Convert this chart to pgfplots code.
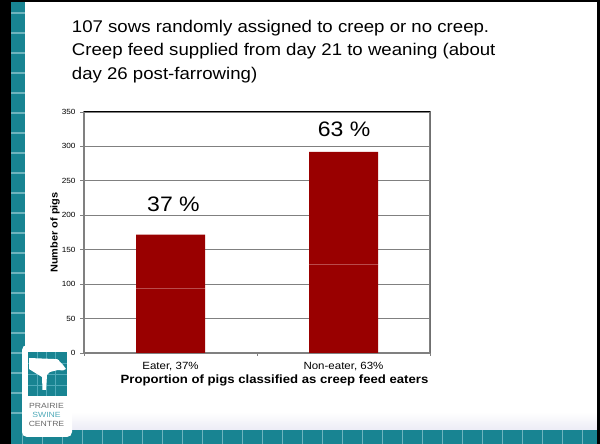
\documentclass[border=0pt]{standalone}
\usepackage{fontspec}
\setmainfont{Liberation Sans}[FakeStretch=1.1]
\usepackage{pgfplots}
\pgfplotsset{compat=1.18}

\definecolor{psteal}{RGB}{24,132,146}
\definecolor{pstealline}{RGB}{110,180,190}
\definecolor{barred}{RGB}{153,0,0}
\definecolor{barline}{RGB}{180,50,50}
\definecolor{gridgray}{RGB}{128,128,128}
\definecolor{logogray}{RGB}{105,105,105}
\definecolor{logoteal}{RGB}{80,170,185}

\begin{document}
\begin{tikzpicture}[x=1bp,y=1bp]
\useasboundingbox (0,0) rectangle (600,444);
% slide background and frame
\fill[white] (0,0) rectangle (600,444);
\shade[top color=white, bottom color={rgb,255:red,236;green,236;blue,246}] (25,14) rectangle (597,32);
\fill[black] (0,0) rectangle (11,444);
\fill[psteal] (11,0) rectangle (25,444);
\foreach \k in {0,...,21} {
  \draw[pstealline, line width=1.2bp] (11,{431-20*\k}) -- (25,{431-20*\k});
}
\fill[psteal] (11,0) rectangle (597,14);
\foreach \k in {0,...,28} {
  \draw[pstealline, line width=1.2bp] ({22.7+20*\k},0) -- ({22.7+20*\k},14);
}
\fill[black] (0,442) rectangle (600,444);
\fill[black] (597,0) rectangle (600,444);

% logo
\fill[white, rounded corners=5bp] (22,7) rectangle (72,99);
\fill[psteal] (28,48) rectangle (67,92);
\foreach \xx in {37,46,55} { \draw[logoteal, line width=0.5bp] (\xx,48) -- (\xx,92); }
\foreach \yy in {59,70,81} { \draw[logoteal, line width=0.5bp] (28,\yy) -- (67,\yy); }
\fill[white] (29,86) -- (54,85) .. controls (58,85) .. (60,82) -- (63,79) -- (66,75)
  -- (63,73.5) -- (58,74) .. controls (54,73) .. (50,72) -- (47,69) -- (46,54) -- (42.5,54)
  -- (42,67) .. controls (37,70) .. (29,75) -- cycle;
\node[font=\fontsize{7.5}{8}\selectfont, text=logogray, xscale=1.05] at (46.5,38) {PRAIRIE};
\node[font=\fontsize{7.5}{8}\selectfont, text=logoteal, xscale=1.05] at (46.5,29.5) {SWINE};
\node[font=\fontsize{7.5}{8}\selectfont, text=logogray, xscale=1.05] at (46.5,20) {CENTRE};

% heading text
\node[anchor=base west, font=\fontsize{17}{20}\selectfont, inner sep=0] at (71.7,411.3) {107 sows randomly assigned to creep or no creep.};
\node[anchor=base west, font=\fontsize{17}{20}\selectfont, inner sep=0] at (71.7,388) {Creep feed supplied from day 21 to weaning (about};
\node[anchor=base west, font=\fontsize{17}{20}\selectfont, inner sep=0] at (71.7,364.7) {day 26 post-farrowing)};

\begin{axis}[
  at={(84bp,91bp)}, anchor=south west,
  scale only axis, width=346bp, height=241bp,
  ybar stacked, bar width=69bp,
  xmin=-0.5, xmax=1.5, ymin=0, ymax=350,
  xtick={0,1},
  xticklabels={{Eater, 37\%},{Non-eater, 63\%}},
  minor xtick={-0.5,0.5,1.5},
  major x tick style={draw=none},
  minor x tick style={gridgray, line width=0.6bp},
  minor tick length=3bp,
  ytick={0,50,...,350},
  major y tick style={gridgray, line width=0.8bp},
  major tick length=4bp,
  tick align=outside,
  xtick pos=bottom, ytick pos=left,
  ymajorgrids,
  grid style={gridgray, line width=0.8bp},
  axis line style={gridgray, line width=1.2bp},
  /pgf/number format/assume math mode=true,
  yticklabel style={font=\fontsize{7.5}{8}\selectfont, xshift=-1bp},
  xticklabel style={font=\fontsize{10.5}{12}\selectfont, yshift=-2bp},
  xlabel={Proportion of pigs classified as creep feed eaters},
  xlabel style={font=\bfseries\fontsize{12}{13}\selectfont, at={(axis description cs:0.5506,0)}, anchor=north, yshift=-18bp},
  ylabel={Number of pigs},
  ylabel style={font=\bfseries\fontsize{10}{11}\selectfont, at={(axis description cs:-0.0838,0.5)}, anchor=center},
]
% lower part, thin seam, upper part of each bar
\addplot[fill=barred, draw=none] coordinates {(0,92.6) (1,127.6)};
\addplot[fill=barline, draw=none] coordinates {(0,0.8) (1,0.8)};
\addplot[fill=barred, draw=none] coordinates {(0,78.6) (1,163.6)};
\draw[black, line width=1bp] (rel axis cs:0,1) -- (rel axis cs:1,1) -- (rel axis cs:1,0);
\node[anchor=base, font=\fontsize{21}{24}\selectfont] at (axis cs:0.017,205) {37 \%};
\node[anchor=base, font=\fontsize{21}{24}\selectfont] at (axis cs:1.003,314) {63 \%};
\end{axis}
\end{tikzpicture}
\end{document}
